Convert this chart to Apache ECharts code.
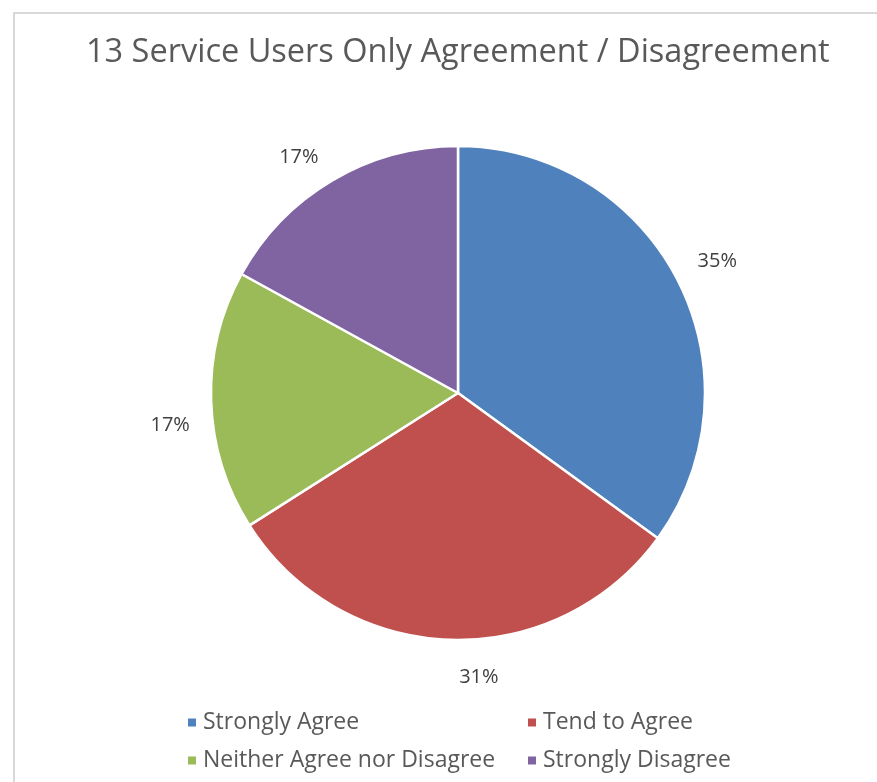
<!DOCTYPE html>
<html>
<head>
<meta charset="utf-8">
<script src="https://cdn.jsdelivr.net/npm/echarts@6/dist/echarts.min.js"></script>
<style>
  html, body { margin: 0; padding: 0; background: #ffffff; }
  #chart { width: 877px; height: 782px; }
</style>
</head>
<body>
<div id="chart"></div>
<script>
// Response shares (percent) for each answer category
const categories = ['Strongly Agree', 'Tend to Agree', 'Neither Agree nor Disagree', 'Strongly Disagree'];
const shares = [35, 31, 17, 17];
const colors = ['#4F81BD', '#C0504D', '#9BBB59', '#8064A2'];
const titleText = '13 Service Users Only Agreement / Disagreement';

const FONT = '"Open Sans", "DejaVu Sans", sans-serif';
const TEXT_COLOR = '#595959';

// small per-slice nudges so the percentage labels sit where the best-fit layout puts them
const labelNudge = [[0, 0], [30, -7], [3, 23], [-11, 15]];

const pieData = categories.map((name, i) => ({
  name: name,
  value: shares[i],
  itemStyle: { color: colors[i] }
}));

const chart = echarts.init(document.getElementById('chart'), null, { renderer: 'canvas' });

const legendStyle = {
  orient: 'vertical',
  top: 706,
  itemWidth: 10,
  itemHeight: 10,
  itemGap: 15,
  icon: 'rect',
  selectedMode: false,
  textStyle: { fontFamily: FONT, fontSize: 23, color: TEXT_COLOR, padding: [0, 0, 0, 1] }
};

chart.setOption({
  animation: false,
  backgroundColor: '#ffffff',
  title: {
    text: titleText,
    left: 81,
    top: 31,
    textStyle: { fontFamily: FONT, fontSize: 32.5, fontWeight: 'normal', color: TEXT_COLOR }
  },
  graphic: [{
    type: 'polyline',
    shape: { points: [[14, 782], [14, 13], [877, 13]] },
    style: { stroke: '#D9D9D9', lineWidth: 2, fill: null },
    silent: true
  }],
  legend: [
    Object.assign({ data: [categories[0], categories[2]], left: 181 }, legendStyle),
    Object.assign({ data: [categories[1], categories[3]], left: 521 }, legendStyle)
  ],
  series: [
    {
      type: 'pie',
      center: [458, 393],
      radius: 247,
      startAngle: 90,
      clockwise: true,
      data: pieData,
      label: { show: false },
      labelLine: { show: false },
      itemStyle: { borderColor: '#ffffff', borderWidth: 2.5 },
      emphasis: { disabled: true }
    },
    {
      // transparent ring that carries the percentage labels just outside the pie
      type: 'pie',
      center: [458, 393],
      radius: [274, 302],
      startAngle: 90,
      clockwise: true,
      silent: true,
      data: pieData.map((d, i) => ({
        name: d.name,
        value: d.value,
        itemStyle: { color: 'rgba(0,0,0,0)' },
        label: { offset: labelNudge[i] }
      })),
      label: {
        show: true,
        position: 'inside',
        formatter: p => p.value + '%',
        fontFamily: FONT,
        fontSize: 20,
        color: '#404040'
      },
      labelLine: { show: false },
      emphasis: { disabled: true }
    }
  ]
});
</script>
</body>
</html>
